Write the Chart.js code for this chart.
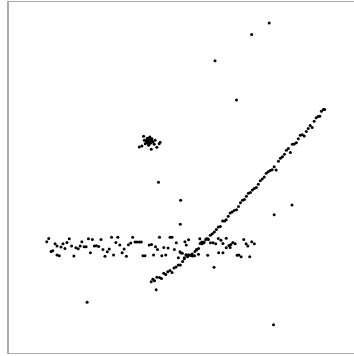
<!DOCTYPE html>
<html><head><meta charset="utf-8">
<script src="https://cdn.jsdelivr.net/npm/chart.js@4/dist/chart.umd.min.js"></script>
<style>
html,body{margin:0;padding:0;background:#fff;overflow:hidden;}
#wrap{position:relative;width:354px;height:356px;}
#frame{position:absolute;left:7px;top:1px;width:360px;height:351px;border-top:1px solid #aaa;border-bottom:1px solid #aaa;border-left:2px solid #aaa;box-sizing:content-box;pointer-events:none;}
canvas{position:absolute;left:0;top:0;}
</style></head><body>
<div id="wrap"><canvas id="c" width="354" height="356"></canvas><div id="frame"></div></div>
<script>
const bandX = [137,143,150,155,162,168,175,168,180,186,192,198,205,212,219,225,232,238,243,250,256,263,269,275,281,287,294,301,307,313,320,326,333,339,346,352,358,365,371,378,384,391,397,404,410,417,423,428,434,447,454,460,466,472,478,485,491,497,504,510,516,523,529,535,540,547,553,559,566,572,555,542,558,563,577,584,590,596,600,606,612,618,624,632,640,648,656,664,670,680,688,694,700,707,713,718,725,733,740,745,751,757,765,624,657,670,680,692];
const bandY = [727,717,756,754,733,767,769,740,743,733,747,729,718,740,770,745,748,740,727,742,742,718,760,720,740,739,741,720,750,771,757,749,713,767,729,713,737,760,749,771,736,731,713,728,728,728,728,769,769,737,735,767,742,750,713,769,744,767,746,713,713,750,730,775,757,762,778,737,721,768,727,760,766,772,764,769,750,765,718,728,730,720,718,730,730,733,717,722,732,716,738,735,729,733,768,767,772,720,733,740,772,727,733,768,760,760,745,744];
const lineX = [453,458,463,470,478,484,491,497,503,510,516,522,528,535,541,548,553,560,566,572,578,585,590,596,601,607,613,620,626,632,638,644,650,656,662,669,675,680,686,692,698,704,711,717,723,729,735,741,747,753,759,765,771,777,783,789,795,801,807,813,819,825,831,838,844,850,856,862,868,874,880,886,892,898,904,910,916,922,928,934,940,946,952,958,963,968,974,978];
const lineY = [848,840,845,834,835,838,822,826,818,814,820,806,803,797,797,787,775,768,766,768,770,756,752,747,732,733,728,718,720,707,703,697,690,682,681,664,664,660,650,640,637,632,630,620,609,601,599,589,580,578,570,566,563,553,542,537,531,520,515,511,509,500,510,483,474,470,462,450,445,457,432,431,427,415,405,403,407,393,384,375,381,362,352,348,347,332,327,327];
const clusterX = [430,449,465,455,440,435,417,425,453,470,480,477,445,462,440,450,445,458,438,447,432,441,450,443,452,446,444,448,442,451,447,439,455,446,449,443,453,441,448,445,450,444,447];
const clusterY = [408,410,420,415,425,430,440,437,447,441,426,430,435,432,418,420,428,425,422,413,420,414,429,424,418,432,416,417,419,422,421,426,421,423,426,427,425,423,414,419,415,421,424];
const outX = [810,757,646,711,475,542,541,879,825,259,823,643,468];
const outY = [65,100,179,298,547,601,674,616,645,910,978,804,872];

function pts(xs, ys){ return xs.map((x,i)=>({x:x, y:ys[i]})); }
const style = {backgroundColor:'#000', borderWidth:0, pointRadius:1.5, pointHoverRadius:1.5};
new Chart(document.getElementById('c'), {
  type:'scatter',
  data:{datasets:[
    Object.assign({label:'band', data:pts(bandX,bandY)}, style),
    Object.assign({label:'line', data:pts(lineX,lineY)}, style),
    Object.assign({label:'cluster', data:pts(clusterX,clusterY)}, style),
    Object.assign({label:'outliers', data:pts(outX,outY)}, style)
  ]},
  options:{
    responsive:false, animation:false, devicePixelRatio:1,
    layout:{padding:0},
    plugins:{legend:{display:false}, tooltip:{enabled:false}},
    scales:{
      x:{type:'linear', min:0, max:1062, display:false},
      y:{type:'linear', min:0, max:1068, reverse:true, display:false}
    }
  }
});
</script></body></html>
